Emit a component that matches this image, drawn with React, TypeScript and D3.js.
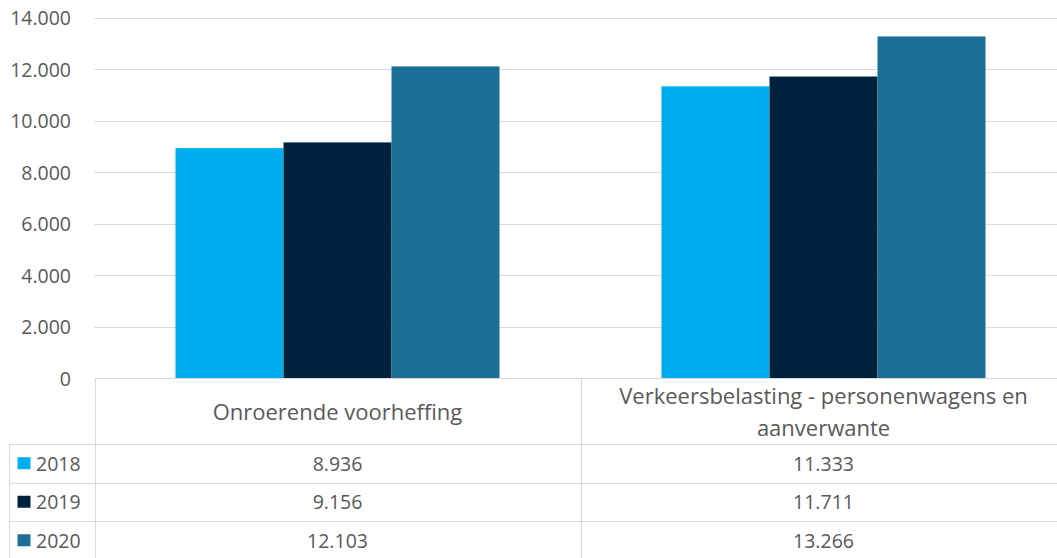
import React, { useEffect, useRef } from 'react';
import * as d3 from 'd3';

// Categories and series
const categories = ['Onroerende voorheffing', 'Verkeersbelasting - personenwagens en aanverwante'];
const categoryLines = [['Onroerende voorheffing'], ['Verkeersbelasting - personenwagens en', 'aanverwante']];
const years = ['2018', '2019', '2020'];
const values2018 = [8936, 11333];
const values2019 = [9156, 11711];
const values2020 = [12103, 13266];
const yTicks = [0, 2000, 4000, 6000, 8000, 10000, 12000, 14000];
const colors = ['#00AEEF', '#00223D', '#1B6F96'];

const W = 1057;
const H = 558;

const App: React.FC = () => {
  const ref = useRef<SVGSVGElement>(null);

  useEffect(() => {
    if (!ref.current) return;
    const svg = d3.select(ref.current);
    svg.selectAll('*').remove();

    const series = [values2018, values2019, values2020];
    const textColor = '#595959';
    const lineColor = '#d9d9d9';
    const font = '"Open Sans", sans-serif';
    const fmt = d3.formatLocale({ decimal: ',', thousands: '.', grouping: [3], currency: ['€', ''] }).format(',d');

    // plot geometry
    const left = 94.5;
    const right = 1066.5;
    const top = 17.5;
    const bottom = 378.5;
    const rowH = 38.5;
    const headerBottom = 444;
    const tableLeft = 9.5;

    const x = d3.scaleBand<string>().domain(categories).range([left, right]).padding(0);
    const step = x.bandwidth();
    const barW = step / 4.5; // gap width 150%
    const xInner = d3.scaleBand<string>().domain(years).range([barW * 0.75, step - barW * 0.75]).padding(0);
    const y = d3.scaleLinear().domain([0, 14000]).range([bottom, top]);

    // gridlines
    svg.append('g')
      .selectAll('line')
      .data(yTicks.filter(t => t > 0))
      .join('line')
      .attr('x1', left)
      .attr('x2', W)
      .attr('y1', d => Math.round(y(d)) + 0.5)
      .attr('y2', d => Math.round(y(d)) + 0.5)
      .attr('stroke', lineColor)
      .attr('stroke-width', 1);

    // y tick labels
    svg.append('g')
      .selectAll('text')
      .data(yTicks)
      .join('text')
      .attr('x', 71)
      .attr('y', d => y(d))
      .attr('text-anchor', 'end')
      .attr('dominant-baseline', 'central')
      .attr('fill', textColor)
      .style('font-family', font)
      .style('font-size', '19.5px')
      .text(d => fmt(d));

    // bars
    series.forEach((vals, si) => {
      svg.append('g')
        .selectAll('rect')
        .data(vals)
        .join('rect')
        .attr('x', (d, ci) => x(categories[ci])! + xInner(years[si])!)
        .attr('y', d => y(d))
        .attr('width', xInner.bandwidth())
        .attr('height', d => y(0) - y(d))
        .attr('fill', colors[si]);
    });

    // data table lines
    const tableBottom = headerBottom + rowH * years.length;
    const g = svg.append('g').attr('stroke', lineColor).attr('stroke-width', 1);
    g.append('line').attr('x1', left).attr('x2', W).attr('y1', bottom).attr('y2', bottom);
    [0, 1, 2].forEach(i => {
      const yy = Math.round(headerBottom + i * rowH) + 0.5;
      g.append('line').attr('x1', tableLeft).attr('x2', W).attr('y1', yy).attr('y2', yy);
    });
    g.append('line').attr('x1', tableLeft).attr('x2', W).attr('y1', tableBottom).attr('y2', tableBottom);
    g.append('line').attr('x1', tableLeft).attr('x2', tableLeft).attr('y1', headerBottom).attr('y2', tableBottom);
    categories.forEach(c => {
      const xx = Math.round(x(c)!) + 0.5;
      g.append('line').attr('x1', xx).attr('x2', xx).attr('y1', bottom).attr('y2', tableBottom);
    });

    // category headers
    categories.forEach((c, ci) => {
      const lines = categoryLines[ci];
      const cx = x(c)! + step / 2;
      const lh = 32;
      const mid = (bottom + headerBottom) / 2;
      lines.forEach((ln, li) => {
        svg.append('text')
          .attr('x', cx)
          .attr('y', mid + (li - (lines.length - 1) / 2) * lh)
          .attr('text-anchor', 'middle')
          .attr('dominant-baseline', 'central')
          .attr('fill', textColor)
          .style('font-family', font)
          .style('font-size', '22px')
          .text(ln);
      });
    });

    // legend keys and values
    years.forEach((yr, si) => {
      const rowMid = headerBottom + si * rowH + rowH / 2;
      svg.append('rect')
        .attr('x', 17.5)
        .attr('y', rowMid - 6)
        .attr('width', 13)
        .attr('height', 12)
        .attr('fill', colors[si]);
      svg.append('text')
        .attr('x', 36)
        .attr('y', rowMid)
        .attr('dominant-baseline', 'central')
        .attr('fill', textColor)
        .style('font-family', font)
        .style('font-size', '19.5px')
        .text(yr);
      categories.forEach((c, ci) => {
        svg.append('text')
          .attr('x', x(c)! + step / 2)
          .attr('y', rowMid)
          .attr('text-anchor', 'middle')
          .attr('dominant-baseline', 'central')
          .attr('fill', textColor)
          .style('font-family', font)
          .style('font-size', '19.5px')
          .text(fmt(series[si][ci]));
      });
    });
  }, []);

  return (
    <svg
      ref={ref}
      width={W}
      height={H}
      style={{ position: 'absolute', left: 0, top: 0, background: '#fff' }}
    />
  );
};

export default App;
